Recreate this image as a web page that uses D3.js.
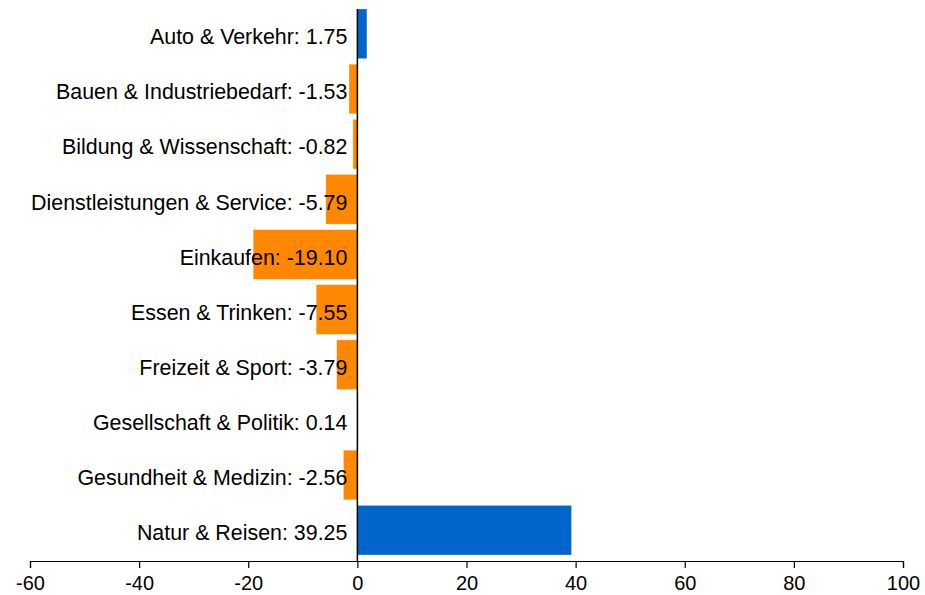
<!DOCTYPE html>
<html>
<head>
<meta charset="utf-8">
<script src="https://cdn.jsdelivr.net/npm/d3@7"></script>
<style>
  html, body { margin: 0; padding: 0; background: #fff; }
  svg { display: block; font-family: "Liberation Sans", Arial, Helvetica, sans-serif; }
</style>
</head>
<body>
<svg id="chart" width="925" height="595"></svg>
<script>
// Category names and their values
const categories = [
  "Auto & Verkehr",
  "Bauen & Industriebedarf",
  "Bildung & Wissenschaft",
  "Dienstleistungen & Service",
  "Einkaufen",
  "Essen & Trinken",
  "Freizeit & Sport",
  "Gesellschaft & Politik",
  "Gesundheit & Medizin",
  "Natur & Reisen"
];
const values = [1.75, -1.53, -0.82, -5.79, -19.10, -7.55, -3.79, 0.14, -2.56, 39.25];
const xTicks = [-60, -40, -20, 0, 20, 40, 60, 80, 100];

const data = categories.map((c, i) => ({ name: c, value: values[i] }));

const svg = d3.select("#chart");
const axisY = 561;

const x = d3.scaleLinear().domain([-60, 100]).range([30, 903]);
const y = d3.scaleBand().domain(categories).range([9, 555]).paddingInner(0.1).paddingOuter(0);

// Bars: positive in blue, negative in orange
svg.append("g")
  .selectAll("rect")
  .data(data)
  .join("rect")
  .attr("x", d => x(Math.min(0, d.value)))
  .attr("y", d => y(d.name))
  .attr("width", d => Math.abs(x(d.value) - x(0)))
  .attr("height", y.bandwidth())
  .attr("fill", d => d.value >= 0 ? "#0066cc" : "#ff8800")
  .attr("stroke", "rgba(255,255,255,0.5)")
  .attr("stroke-width", 0.6);

// Zero line
svg.append("line")
  .attr("x1", x(0)).attr("x2", x(0))
  .attr("y1", y(categories[0])).attr("y2", axisY)
  .attr("stroke", "#000")
  .attr("stroke-width", 1.5);

// Category labels with values
svg.append("g")
  .selectAll("text")
  .data(data)
  .join("text")
  .attr("x", x(0) - 10)
  .attr("y", d => y(d.name) + y.bandwidth() / 2)
  .attr("dy", "0.48em")
  .attr("text-anchor", "end")
  .attr("font-size", 21.4)
  .attr("fill", "#000")
  .text(d => `${d.name}: ${d.value.toFixed(2)}`);

// Bottom axis
const axis = svg.append("g")
  .attr("transform", `translate(0,${axisY})`)
  .call(d3.axisBottom(x).tickValues(xTicks).tickSize(7).tickPadding(8).tickFormat(d => String(d)));
axis.select(".domain").attr("stroke", "#000").attr("stroke-width", 1.2);
axis.selectAll(".tick line").attr("stroke", "#000").attr("stroke-width", 1.2);
axis.selectAll(".tick text")
  .attr("font-size", 20)
  .attr("font-family", "Liberation Sans, Arial, Helvetica, sans-serif")
  .attr("fill", "#000");
</script>
</body>
</html>
